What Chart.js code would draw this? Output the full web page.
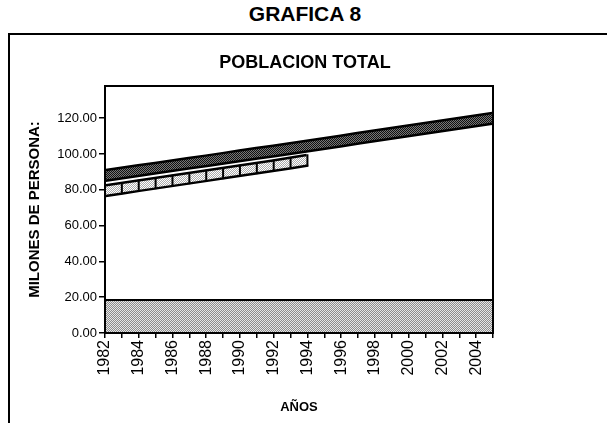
<!DOCTYPE html>
<html>
<head>
  <meta charset="utf-8">
  <title>Grafica 8 - Poblacion total</title>
  <script src="https://cdn.jsdelivr.net/npm/chart.js"></script>
  <style>
    body {
      margin: 0;
      width: 607px;
      height: 423px;
      overflow: hidden;
      background: #fff;
      position: relative;
      font-family: "Liberation Sans", Arial, sans-serif;
    }
    #head {
      position: absolute;
      left: 0;
      top: 2px;
      width: 610px;
      text-align: center;
      font-weight: bold;
      font-size: 21px;
      color: #000;
    }
    #frame {
      position: absolute;
      left: 8px;
      top: 33px;
      width: 640px;
      height: 420px;
      border-top: 2px solid #000;
      border-left: 2px solid #000;
    }
    canvas {
      display: block;
    }
  </style>
</head>
<body>
  <div id="head">GRAFICA 8</div>
  <div id="frame">
    <canvas id="chart" width="597" height="388"></canvas>
  </div>
  <script>
    // valores (millones de personas)
    const years = ['1982', '1983', '1984', '1985', '1986', '1987', '1988', '1989',
                   '1990', '1991', '1992', '1993', '1994', '1995', '1996', '1997',
                   '1998', '1999', '2000', '2001', '2002', '2003', '2004', '2005'];
    const upperSeries = [88.0, 89.4, 90.8, 92.1, 93.5, 94.9, 96.2, 97.6, 99.0, 100.4, 101.7, 103.1,
                         104.5, 105.9, 107.3, 108.8, 110.2, 111.6, 113.0, 114.4, 115.8, 117.2, 118.6, 120.0];
    const lowerSeries = [79.5, 80.9, 82.3, 83.7, 85.1, 86.5, 87.9, 89.3, 90.7, 92.1, 93.5, 95.0, 96.5,
                         null, null, null, null, null, null, null, null, null, null, null];
    const baseSeries = [18.5, 18.5, 18.5, 18.5, 18.5, 18.5, 18.5, 18.5, 18.5, 18.5, 18.5, 18.5,
                        18.5, 18.5, 18.5, 18.5, 18.5, 18.5, 18.5, 18.5, 18.5, 18.5, 18.5, 18.5];
    const yTicks = [0, 20, 40, 60, 80, 100, 120];
    const chartTitle = 'POBLACION TOTAL';

    // tramas tipo impresion
    function dotPattern(bg, fg, step) {
      const c = document.createElement('canvas');
      c.width = c.height = step * 2;
      const g = c.getContext('2d');
      g.fillStyle = bg;
      g.fillRect(0, 0, c.width, c.height);
      g.fillStyle = fg;
      g.fillRect(0, 0, step, step);
      g.fillRect(step, step, step, step);
      return g.createPattern(c, 'repeat');
    }

    const darkFill = dotPattern('#111', '#777', 1);
    const lightFill = dotPattern('#fff', '#aaa', 1);
    const areaFill = dotPattern('#e6e6e6', '#8c8c8c', 1);

    // marco del area de trazado + titulo centrado sobre la hoja
    const plotFrame = {
      id: 'plotFrame',
      afterDatasetsDraw(chart) {
        const a = chart.chartArea;
        const ctx = chart.ctx;
        ctx.save();
        ctx.strokeStyle = '#000';
        ctx.lineWidth = 2;
        ctx.strokeRect(a.left, a.top, a.right - a.left, a.bottom - a.top);
        ctx.restore();
      },
      afterDraw(chart) {
        const ctx = chart.ctx;
        ctx.save();
        ctx.fillStyle = '#000';
        ctx.font = 'bold 18px "Liberation Sans"';
        ctx.textAlign = 'center';
        ctx.textBaseline = 'middle';
        ctx.fillText(chartTitle, 295, 28);
        ctx.restore();
      }
    };

    const ctx = document.getElementById('chart').getContext('2d');
    new Chart(ctx, {
      type: 'line',
      data: {
        labels: years,
        datasets: [
          {
            data: upperSeries,
            borderColor: darkFill,
            borderWidth: 8,
            borderCapStyle: 'butt',
            pointRadius: 0,
            fill: false,
            tension: 0,
            order: 1
          },
          {
            data: upperSeries,
            borderColor: '#000',
            borderWidth: 13,
            borderCapStyle: 'butt',
            pointRadius: 0,
            fill: false,
            tension: 0,
            order: 2
          },
          {
            data: lowerSeries,
            borderColor: lightFill,
            borderWidth: 8,
            borderCapStyle: 'butt',
            pointStyle: 'line',
            rotation: 90,
            pointRadius: 6,
            pointBorderWidth: 2,
            pointBorderColor: '#000',
            fill: false,
            tension: 0,
            spanGaps: false,
            order: 3
          },
          {
            data: lowerSeries,
            borderColor: '#000',
            borderWidth: 13,
            borderCapStyle: 'butt',
            pointRadius: 0,
            fill: false,
            tension: 0,
            spanGaps: false,
            order: 4
          },
          {
            data: baseSeries,
            borderColor: '#000',
            borderWidth: 2,
            backgroundColor: areaFill,
            pointRadius: 0,
            fill: 'origin',
            tension: 0,
            order: 5
          }
        ]
      },
      options: {
        responsive: false,
        animation: false,
        layout: {
          padding: { left: 15, right: 114, top: 51, bottom: 5 }
        },
        plugins: {
          legend: { display: false },
          tooltip: { enabled: false },
          title: { display: false }
        },
        scales: {
          x: {
            type: 'category',
            offset: false,
            border: { color: '#000', width: 2 },
            grid: {
              offset: false,
              drawOnChartArea: false,
              drawTicks: true,
              tickLength: 5,
              color: '#000',
              lineWidth: 1.5
            },
            ticks: {
              autoSkip: false,
              minRotation: 90,
              maxRotation: 90,
              padding: 2,
              color: '#000',
              font: { family: 'Liberation Sans', size: 16 },
              callback: (v, i) => (i % 2 === 0 ? years[i] : '')
            },
            title: {
              display: true,
              text: 'AÑOS',
              color: '#000',
              font: { family: 'Liberation Sans', size: 13, weight: 'bold' },
              padding: { top: 0, bottom: 3 }
            },
            afterFit(scale) {
              scale.height = 85;
            }
          },
          y: {
            min: 0,
            max: 138,
            border: { color: '#000', width: 2 },
            grid: {
              drawOnChartArea: false,
              drawTicks: true,
              tickLength: 6,
              color: '#000',
              lineWidth: 1.5
            },
            afterBuildTicks(scale) {
              scale.ticks = yTicks.map(v => ({ value: v }));
            },
            ticks: {
              padding: 2,
              color: '#000',
              font: { family: 'Liberation Sans', size: 13 },
              callback: v => v.toFixed(2)
            },
            title: {
              display: true,
              text: 'MILONES DE PERSONA:',
              color: '#000',
              font: { family: 'Liberation Sans', size: 15, weight: 'bold' },
              padding: { top: 1, bottom: 0 }
            },
            afterFit(scale) {
              scale.width = 80;
            }
          }
        }
      },
      plugins: [plotFrame]
    });
  </script>
</body>
</html>
